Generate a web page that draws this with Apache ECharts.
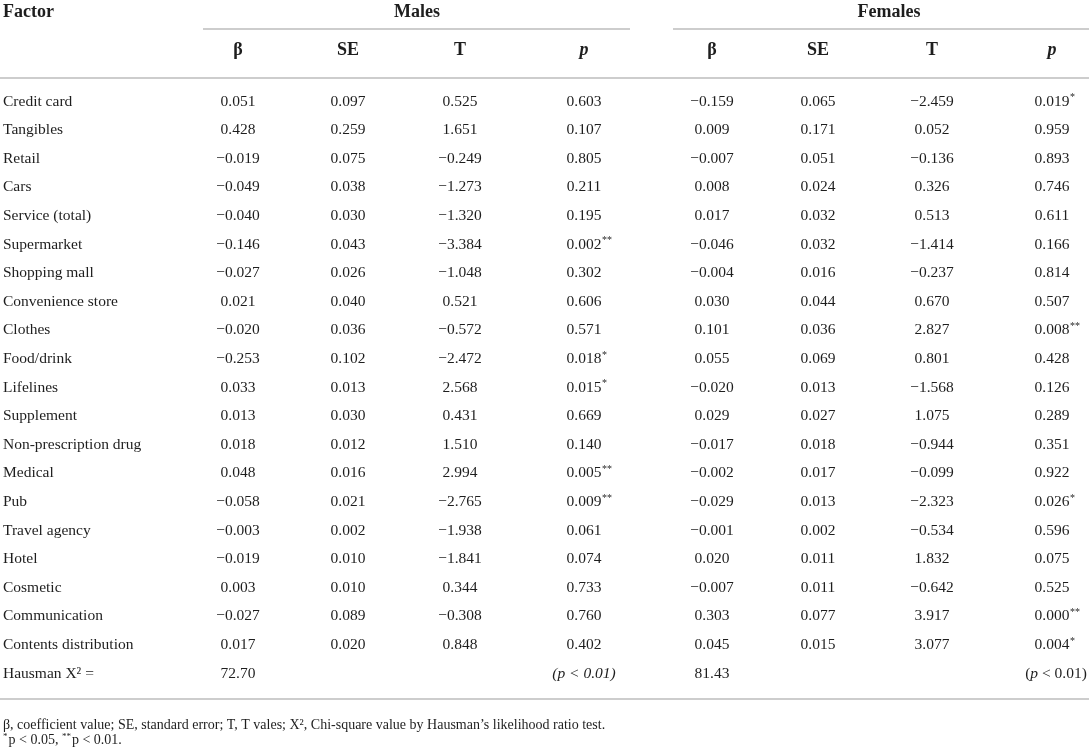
<!DOCTYPE html>
<html>
<head>
<meta charset="utf-8">
<script src="https://cdn.jsdelivr.net/npm/echarts@6/dist/echarts.min.js"></script>
<style>
html,body{margin:0;padding:0;background:#ffffff;}
#c{width:1089px;height:749px;}
</style>
</head>
<body>
<div id="c"></div>
<script>
// ---------------- DATA ----------------
const factors = ['Credit card','Tangibles','Retail','Cars','Service (total)','Supermarket','Shopping mall',
  'Convenience store','Clothes','Food/drink','Lifelines','Supplement','Non-prescription drug','Medical',
  'Pub','Travel agency','Hotel','Cosmetic','Communication','Contents distribution'];
const hausmanLabel = 'Hausman X\u00B2 =';
const groupHeaders = ['Males','Females'];
const columnHeaders = ['\u03B2','SE','T','p'];

const maleBeta = [0.051,0.428,-0.019,-0.049,-0.040,-0.146,-0.027,0.021,-0.020,-0.253,0.033,0.013,0.018,0.048,-0.058,-0.003,-0.019,0.003,-0.027,0.017];
const maleSE   = [0.097,0.259,0.075,0.038,0.030,0.043,0.026,0.040,0.036,0.102,0.013,0.030,0.012,0.016,0.021,0.002,0.010,0.010,0.089,0.020];
const maleT    = [0.525,1.651,-0.249,-1.273,-1.320,-3.384,-1.048,0.521,-0.572,-2.472,2.568,0.431,1.510,2.994,-2.765,-1.938,-1.841,0.344,-0.308,0.848];
const maleP    = [0.603,0.107,0.805,0.211,0.195,0.002,0.302,0.606,0.571,0.018,0.015,0.669,0.140,0.005,0.009,0.061,0.074,0.733,0.760,0.402];
const maleStars= ['','','','','','**','','','','*','*','','','**','**','','','','',''];

const femaleBeta = [-0.159,0.009,-0.007,0.008,0.017,-0.046,-0.004,0.030,0.101,0.055,-0.020,0.029,-0.017,-0.002,-0.029,-0.001,0.020,-0.007,0.303,0.045];
const femaleSE   = [0.065,0.171,0.051,0.024,0.032,0.032,0.016,0.044,0.036,0.069,0.013,0.027,0.018,0.017,0.013,0.002,0.011,0.011,0.077,0.015];
const femaleT    = [-2.459,0.052,-0.136,0.326,0.513,-1.414,-0.237,0.670,2.827,0.801,-1.568,1.075,-0.944,-0.099,-2.323,-0.534,1.832,-0.642,3.917,3.077];
const femaleP    = [0.019,0.959,0.893,0.746,0.611,0.166,0.814,0.507,0.008,0.428,0.126,0.289,0.351,0.922,0.026,0.596,0.075,0.525,0.000,0.004];
const femaleStars= ['*','','','','','','','','**','','','','','','*','','','','**','*'];

const hausmanChi2 = [72.70, 81.43];
const hausmanP = ['(p < 0.01)', '(p < 0.01)'];

const footnote1 = '\u03B2, coefficient value; SE, standard error; T, T vales; X\u00B2, Chi-square value by Hausman\u2019s likelihood ratio test.';
const footnote2 = '{s|*}p < 0.05, {s|**}p < 0.01.';

// ---------------- LAYOUT / STYLE ----------------
const W = 1089, H = 749;
const colX = [238, 348, 460, 584, 712, 818, 932, 1052];
const FONT = "'Liberation Serif','DejaVu Serif',serif";
const TXT = '#1e1e1e';
const RULE = '#cdcdcd';
const DATA_SIZE = 15.5;
const HEAD_SIZE = 18;
const NOTE_SIZE = 14;

const rowLabels = factors.concat([hausmanLabel]);

const cvs = document.createElement('canvas').getContext('2d');
function textW(t, size, style) {
  cvs.font = (style || '') + ' ' + size + 'px ' + FONT;
  return cvs.measureText(t).width;
}
function fmt(v, d) {
  return (v < 0 ? '\u2212' : '') + Math.abs(v).toFixed(d);
}

const columns = [maleBeta, maleSE, maleT, maleP, femaleBeta, femaleSE, femaleT, femaleP];
const starCols = [null, null, null, maleStars, null, null, null, femaleStars];

const cells = [];
columns.forEach((arr, c) => {
  arr.forEach((v, r) => {
    cells.push({ value: [colX[c], r], text: fmt(v, 3), star: starCols[c] ? starCols[c][r] : '' });
  });
});
const hr = factors.length;
cells.push({ value: [colX[0], hr], text: hausmanChi2[0].toFixed(2), star: '' });
cells.push({ value: [colX[4], hr], text: hausmanChi2[1].toFixed(2), star: '' });
cells.push({ value: [colX[3], hr], text: hausmanP[0], star: '', allItalic: true });
cells.push({ value: [colX[7], hr], text: hausmanP[1], star: '', pItalic: true });

// grid so that category rows land on the table rows
const rowPitch = 28.6;
const firstRowY = 101.5;
const gridTop = firstRowY - rowPitch / 2;
const gridHeight = rowPitch * rowLabels.length;

function renderCell(params, api) {
  const d = cells[params.dataIndex];
  const p = api.coord([api.value(0), api.value(1)]);
  const children = [];
  if (d.pItalic) {
    const inner = d.text.replace(/^\(p/, '({i|p}');
    children.push({
      type: 'text', x: p[0] + 4, y: p[1],
      style: { text: inner, align: 'center', verticalAlign: 'middle', textAlign: 'center', textVerticalAlign: 'middle',
        fontSize: DATA_SIZE, fontFamily: FONT, fill: TXT,
        rich: { i: { fontStyle: 'italic', fontSize: DATA_SIZE, fontFamily: FONT, fill: TXT } } }
    });
  } else {
    children.push({
      type: 'text', x: p[0], y: p[1],
      style: { text: d.text, align: 'center', verticalAlign: 'middle', textAlign: 'center', textVerticalAlign: 'middle',
        fontSize: DATA_SIZE, fontFamily: FONT, fontStyle: d.allItalic ? 'italic' : 'normal', fill: TXT }
    });
  }
  if (d.star) {
    const w = textW(d.text, DATA_SIZE);
    children.push({
      type: 'text', x: p[0] + w / 2 + 0.5, y: p[1] - 4,
      style: { text: d.star, align: 'left', verticalAlign: 'middle', textAlign: 'left', textVerticalAlign: 'middle',
        fontSize: 10, fontFamily: FONT, fill: TXT }
    });
  }
  return { type: 'group', children: children };
}

// header graphics
const graphics = [];
function gtext(t, x, y, opts) {
  graphics.push({
    type: 'text', x: x, y: y, silent: true,
    style: Object.assign({ text: t, align: 'center', verticalAlign: 'middle', textAlign: 'center', textVerticalAlign: 'middle',
      fontSize: HEAD_SIZE, fontWeight: 'bold', fontFamily: FONT, fill: TXT }, opts || {})
  });
}
function gline(x1, y1, x2, y2) {
  graphics.push({ type: 'line', silent: true, shape: { x1: x1, y1: y1, x2: x2, y2: y2 }, style: { stroke: RULE, lineWidth: 2 } });
}
gtext('Factor', 3, 12, { align: 'left', textAlign: 'left' });
gtext(groupHeaders[0], 417, 12);
gtext(groupHeaders[1], 889, 12);
gline(203, 29, 630, 29);
gline(673, 29, W, 29);
columnHeaders.forEach((h, i) => {
  const it = (h === 'p') ? { fontStyle: 'italic' } : {};
  gtext(h, colX[i], 50, it);
  gtext(h, colX[i + 4], 50, it);
});
gline(0, 78, W, 78);
gline(0, 699, W, 699);
gtext(footnote1, 3, 725, { align: 'left', textAlign: 'left', fontWeight: 'normal', fontSize: NOTE_SIZE });
gtext(footnote2, 3, 740, { align: 'left', textAlign: 'left', fontWeight: 'normal', fontSize: NOTE_SIZE,
  rich: { s: { fontSize: 9, fontFamily: FONT, fill: TXT, verticalAlign: 'top', padding: [0, 1, 6, 0] } } });

const chart = echarts.init(document.getElementById('c'), null, { renderer: 'canvas' });
chart.setOption({
  backgroundColor: '#ffffff',
  animation: false,
  grid: { left: 0, right: 0, top: gridTop, height: gridHeight, containLabel: false },
  xAxis: { type: 'value', min: 0, max: W, show: false },
  yAxis: {
    type: 'category', data: rowLabels, inverse: true,
    axisLine: { show: false }, axisTick: { show: false }, splitLine: { show: false },
    axisLabel: { inside: true, margin: 3, align: 'left', fontSize: DATA_SIZE, fontFamily: FONT, color: TXT, interval: 0 }
  },
  graphic: graphics,
  series: [{
    type: 'custom',
    coordinateSystem: 'cartesian2d',
    renderItem: renderCell,
    data: cells.map(c => c.value),
    silent: true
  }]
});
</script>
</body>
</html>
